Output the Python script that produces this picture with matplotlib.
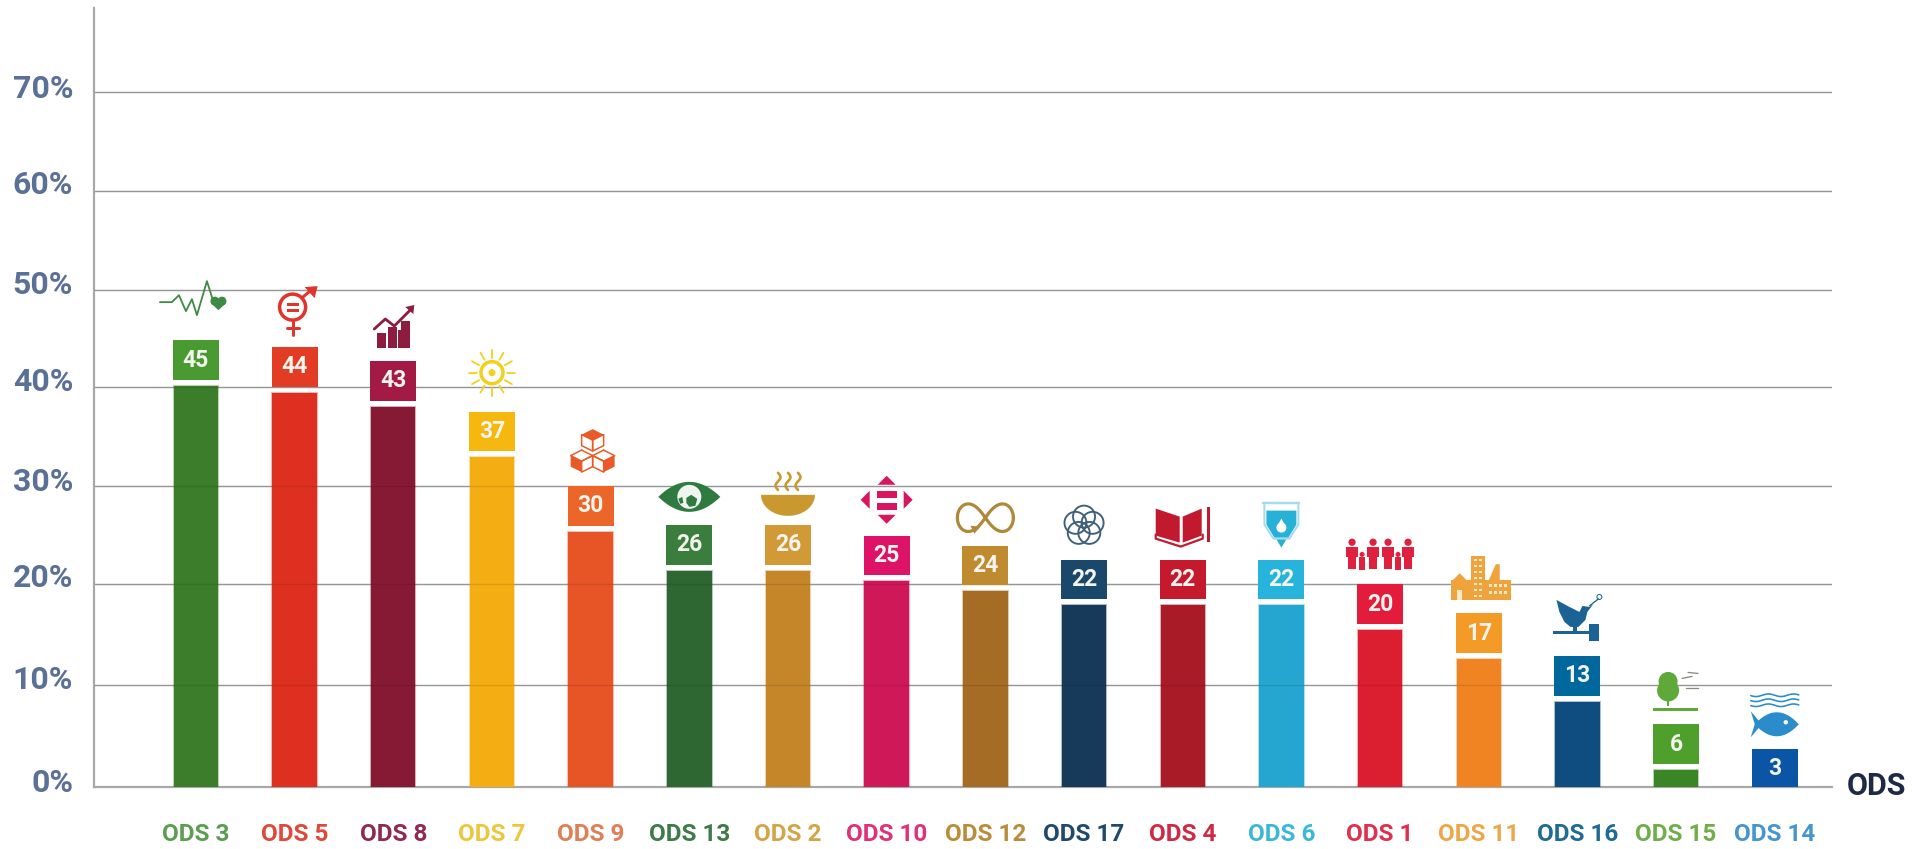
import numpy as np
import matplotlib
matplotlib.use("Agg")
import matplotlib.pyplot as plt
from matplotlib.colors import to_rgba
from matplotlib.patches import Circle, Polygon, Rectangle

plt.rcParams['font.family'] = ['Roboto', 'DejaVu Sans']

ods_labels = ['ODS 3', 'ODS 5', 'ODS 8', 'ODS 7', 'ODS 9', 'ODS 13', 'ODS 2', 'ODS 10', 'ODS 12',
              'ODS 17', 'ODS 4', 'ODS 6', 'ODS 1', 'ODS 11', 'ODS 16', 'ODS 15', 'ODS 14']
values = [45, 44, 43, 37, 30, 26, 26, 25, 24, 22, 22, 22, 20, 17, 13, 6, 3]
# where the top of each box sits on the axis
tops = [45.0, 44.3, 42.9, 37.8, 30.3, 26.4, 26.4, 25.3, 24.3, 22.9, 22.9, 22.9, 20.4, 17.5, 13.2, 6.3, 3.8]
bar_colors = ['#3b7d2a', '#de3020', '#861a34', '#f5ad14', '#e75425', '#2f6733', '#c5862a', '#cf1857', '#a56c25',
              '#183a5a', '#aa1b28', '#24a6d0', '#db1f30', '#f08423', '#0f4d80', '#3a8526', '#0050a0']
box_colors = ['#4a9a32', '#e23c24', '#a31a45', '#f6b70f', '#ec662a', '#3a7d3d', '#d19a37', '#dd1367', '#bf8b2e',
              '#19486a', '#c5192d', '#26b4dc', '#e21c3a', '#f39a27', '#00689d', '#4f9f2d', '#0a55a5']
text_colors = ['#5a9e50', '#e0483a', '#8f2a55', '#ecc63c', '#e07f55', '#3f7a4a', '#d4a548', '#e0307a', '#b98d3a',
               '#1f4a6e', '#cf2a45', '#3bb8d8', '#e0304f', '#eda748', '#1f6a96', '#6fae4a', '#4596cf']
grid_pos = [10.3, 20.4, 30.3, 40.3, 50.1, 60.0, 70.0]
# the tick labels do not sit exactly on their lines in the reference
label_pos = [0.7, 11.1, 21.4, 31.0, 41.1, 50.9, 60.9, 70.6]
tick_labels = ['0%', '10%', '20%', '30%', '40%', '50%', '60%', '70%']

W, H = 1928, 849
fig = plt.figure(figsize=(W / 100, H / 100), dpi=100)
ax = fig.add_axes([94 / W, 1 - 787 / H, (1832 - 94) / W, (787 - 8) / H])
ax.set_xlim(-1.033, 16.58)
ax.set_ylim(0, 78.45)
for s in ['top', 'right']:
    ax.spines[s].set_visible(False)
for s in ['left', 'bottom']:
    ax.spines[s].set_color('#a8a8a8')
    ax.spines[s].set_linewidth(1.6)
ax.spines['bottom'].set_zorder(1)

for y in grid_pos:
    ax.axhline(y, color='#a8a8a8', linewidth=1.0, zorder=1)
    ax.axhline(y, color='black', alpha=0.1, linewidth=1.0, zorder=2.5)

ax.set_xticks(range(len(ods_labels)))
ax.set_xticklabels(ods_labels, fontsize=17.5, fontweight='bold')
for lab, c in zip(ax.get_xticklabels(), text_colors):
    lab.set_color(c)
ax.tick_params(axis='x', length=0, pad=26)
ax.set_yticks(label_pos)
ax.set_yticklabels(tick_labels, fontsize=23, fontweight='bold', color='#5b7096')
ax.tick_params(axis='y', length=0, pad=15)

box_h = 4.0
gap = 0.6
bar_w = 0.45
box_w = 0.465
for i, t in enumerate(tops):
    low = max(t - box_h - gap, 0)
    box_low = max(t - box_h, 0)
    if low > 0:
        # soft edge like the scanned original
        ax.bar(i, low, width=bar_w, color=bar_colors[i], edgecolor=to_rgba(bar_colors[i], 0.35),
               linewidth=1.5, zorder=2)
    ax.bar(i, t - box_low, bottom=box_low, width=box_w, color=box_colors[i], zorder=3)
    ax.text(i, (box_low + t) / 2, str(values[i]), color='#f4f4ee', fontsize=16.5,
            fontweight='bold', ha='center', va='center', zorder=4)

fig.text(1877 / W, 1 - 786 / H, 'ODS', fontsize=22, fontweight='bold', color='#1e2a44', ha='center', va='center')

# overlay in image pixels for the little goal icons
ov = fig.add_axes([0, 0, 1, 1], zorder=5)
ov.set_xlim(0, W)
ov.set_ylim(H, 0)
ov.axis('off')
ov.patch.set_alpha(0)


def line(cx, cy, pts, c, lw=2.0):
    pts = np.array(pts, dtype=float)
    ov.plot(cx + pts[:, 0], cy + pts[:, 1], color=c, lw=lw * 0.72, solid_capstyle='round', solid_joinstyle='round')


def poly(cx, cy, pts, c):
    pts = np.array(pts, dtype=float)
    ov.add_patch(Polygon(np.c_[cx + pts[:, 0], cy + pts[:, 1]], closed=True, fc=c, ec='none'))


def rect(cx, cy, x, y, w, h, c):
    ov.add_patch(Rectangle((cx + x, cy + y), w, h, fc=c, ec='none'))


def circ(cx, cy, x, y, r, fc='none', ec='none', lw=2.0):
    ov.add_patch(Circle((cx + x, cy + y), r, fc=fc, ec=ec, lw=lw * 0.72))


def health(cx, cy, c):
    line(cx, cy, [(-36, 0), (-24, 0), (-17, -7), (-10, 9), (-4, -3), (1, 13), (11, -21), (17, -2)], c, 1.8)
    circ(cx, cy, 19, -1, 4.5, fc=c)
    circ(cx, cy, 26, -1, 4.5, fc=c)
    poly(cx, cy, [(15, 1), (30, 1), (22.5, 8)], c)


def gender(cx, cy, c):
    circ(cx, cy, -2, -4, 13, ec=c, lw=3.5)
    rect(cx, cy, -8, -8, 12, 3, c)
    rect(cx, cy, -8, -2, 12, 3, c)
    line(cx, cy, [(-2, 9), (-2, 24)], c, 3)
    line(cx, cy, [(-8, 17), (4, 17)], c, 3)
    line(cx, cy, [(7, -13), (19, -23)], c, 3)
    poly(cx, cy, [(10, -24), (23, -25), (20, -13)], c)


def growth(cx, cy, c):
    for x, h in [(-16, 15), (-5, 21), (5, 18)]:
        rect(cx, cy, x, 20 - h, 9, h, c)
    rect(cx, cy, 8, -7, 9, 27, c)
    line(cx, cy, [(-19, 1), (-8, -9), (1, -2), (19, -20)], c, 2.8)
    poly(cx, cy, [(12, -21), (21, -23), (20, -14)], c)


def sun(cx, cy, c):
    circ(cx, cy, 0, 0, 11, ec=c, lw=3.5)
    circ(cx, cy, 0, 0, 3.5, fc=c)
    for a in np.arange(0, 360, 30):
        r = np.deg2rad(a)
        line(cx, cy, [(15 * np.cos(r), 15 * np.sin(r)), (23 * np.cos(r), 23 * np.sin(r))], c, 1.8)


def cube(cx, cy, x, y, s, c, solid):
    top = [(x, y - s), (x + s, y - s / 2), (x, y), (x - s, y - s / 2)]
    left = [(x - s, y - s / 2), (x, y), (x, y + s), (x - s, y + s / 2)]
    right = [(x + s, y - s / 2), (x + s, y + s / 2), (x, y + s), (x, y)]
    for j, f in enumerate([top, left, right]):
        if solid[j]:
            poly(cx, cy, f, c)
        else:
            line(cx, cy, f + [f[0]], c, 1.5)


def cubes(cx, cy, c):
    cube(cx + 2, cy, 0, -11, 11, c, [1, 0, 0])
    cube(cx + 2, cy, -11, 10, 11, c, [0, 1, 0])
    cube(cx + 2, cy, 11, 10, 11, c, [0, 0, 1])


def eye(cx, cy, c):
    t = np.linspace(-1, 1, 40)
    up = np.c_[31 * t, -15 * (1 - t ** 2)]
    dn = np.c_[31 * t[::-1], 15 * (1 - t[::-1] ** 2)]
    poly(cx, cy, np.r_[up, dn], c)
    circ(cx, cy, 0, 0, 12, fc='#eef5ee')
    poly(cx, cy, [(-3, 1), (2, -2), (8, 2), (6, 9), (0, 10), (-3, 6)], c)
    poly(cx, cy, [(-11, 2), (-7, 0), (-6, 6), (-9, 7)], c)


def bowl(cx, cy, c):
    t = np.linspace(0, np.pi, 30)
    poly(cx, cy, np.c_[27 * np.cos(t), 1 + 21 * np.sin(t)], c)
    for x in (-10, 0, 10):
        yy = np.linspace(-21, -4, 14)
        line(cx, cy, np.c_[x + 2.5 * np.sin((yy + 21) / 17 * 2 * np.pi), yy], c, 2.6)


def arrows(cx, cy, c):
    poly(cx, cy, [(-9, -15), (9, -15), (0, -24)], c)
    poly(cx, cy, [(-9, 15), (9, 15), (0, 24)], c)
    poly(cx, cy, [(-17, -9), (-17, 9), (-26, 0)], c)
    poly(cx, cy, [(17, -9), (17, 9), (26, 0)], c)
    rect(cx, cy, -10, -9, 20, 7, c)
    rect(cx, cy, -10, 3, 20, 7, c)


def infinity(cx, cy, c):
    t = np.linspace(0, 2 * np.pi, 120)
    d = 1 + np.sin(t) ** 2
    line(cx, cy, np.c_[28 * np.cos(t) / d, 39 * np.sin(t) * np.cos(t) / d], c, 3.2)
    poly(cx, cy, [(-15, 8), (-5, 9), (-11, 16)], c)


def flower(cx, cy, c):
    for a in np.arange(-90, 270, 72):
        r = np.deg2rad(a)
        circ(cx, cy, 9 * np.cos(r), 9 * np.sin(r), 11, ec=c, lw=1.9)


def book(cx, cy, c):
    poly(cx, cy, [(-27, -17), (-3, -9), (-3, 17), (-27, 10)], c)
    poly(cx, cy, [(0, -9), (19, -17), (19, 10), (0, 17)], c)
    line(cx, cy, [(-27, 9), (-27, 13), (-2, 21), (20, 13), (20, 9)], c, 2.2)
    rect(cx, cy, 24, -19, 3.5, 35, c)


def water(cx, cy, c):
    line(cx, cy, [(-17, -22), (-17, -1), (-8, 13), (8, 13), (17, -1), (17, -22)], '#a5dcea', 2)
    line(cx, cy, [(-18, -23), (18, -23)], '#a5dcea', 2.5)
    poly(cx, cy, [(-15, -15), (15, -15), (15, -1), (7, 12), (-7, 12), (-15, -1)], c)
    poly(cx, cy, [(-6, 12), (6, 12), (0, 22)], c)
    circ(cx, cy, 0, 2, 5, fc='white')
    poly(cx, cy, [(-4, 0), (4, 0), (0, -7)], 'white')


def person(cx, cy, x, s, c):
    circ(cx, cy, x, -12 * s, 3.3 * s, fc=c)
    rect(cx, cy, x - 3.5 * s, -8 * s, 7 * s, 20 * s, c)
    rect(cx, cy, x - 5.5 * s, -8 * s, 11 * s, 9 * s, c)


def family(cx, cy, c):
    for x in (-28, -7, 8, 28):
        person(cx, cy, x, 1.1, c)
    for x in (-18, 18):
        rect(cx, cy, x - 3, 2, 6, 13, c)
        circ(cx, cy, x, -1, 2.5, fc=c)


def city(cx, cy, c):
    rect(cx, cy, -8, -22, 14, 44, c)
    rect(cx, cy, -28, 2, 60, 20, c)
    poly(cx, cy, [(-28, 4), (-19, -5), (-10, 4)], c)
    poly(cx, cy, [(10, 2), (17, -14), (21, -14), (21, 2)], c)
    for x in (-5, 0):
        for y in range(-19, 21, 6):
            rect(cx, cy, x, y, 3, 2, '#fde8c8')
    for x in range(10, 30, 5):
        for y in (6, 13):
            rect(cx, cy, x, y, 3, 3, '#fde8c8')
    rect(cx, cy, -22, 12, 5, 10, '#fde8c8')


def dove(cx, cy, c):
    poly(cx, cy, [(-21, -21), (-8, -14), (2, -9), (5, -15), (12, -14), (16, -17), (10, -9), (8, -1),
                  (1, 6), (-7, 6), (-13, 1), (-18, -9)], c)
    line(cx, cy, [(12, -15), (21, -22)], c, 1.3)
    circ(cx, cy, 22, -24, 2.5, ec=c, lw=1)
    rect(cx, cy, -24, 10, 38, 3, c)
    rect(cx, cy, 12, 3, 10, 17, c)
    rect(cx, cy, -4, 5, 4, 5, c)


def tree(cx, cy, c):
    circ(cx, cy, -8, -11, 9.5, fc=c)
    circ(cx, cy, -8, -2, 11, fc=c)
    rect(cx, cy, -9, 6, 2, 8, c)
    rect(cx, cy, -23, 16, 45, 3, c)
    line(cx, cy, [(6, -14), (16, -16)], '#8a8a7a', 1.3)
    line(cx, cy, [(12, -20), (22, -19)], '#8a8a7a', 1.3)
    line(cx, cy, [(10, -4), (22, -4)], '#8a8a7a', 1.3)


def fish(cx, cy, c):
    for y in (-21, -16, -11):
        xx = np.linspace(-24, 24, 25)
        line(cx, cy, np.c_[xx, y + 1.3 * np.sin(xx / 4)], c, 1.6)
    t = np.linspace(-1, 1, 30)
    poly(cx, cy, np.r_[np.c_[2 + 22 * t, 8 - 12 * (1 - t ** 2)], np.c_[2 + 22 * t[::-1], 8 + 12 * (1 - t[::-1] ** 2)]], c)
    poly(cx, cy, [(-24, -5), (-13, 8), (-24, 21), (-20, 8)], c)
    circ(cx, cy, 11, 6, 2.2, fc='white')


# icon centres relative to bar x and box top, so they follow the bars
icon_funcs = [health, gender, growth, sun, cubes, eye, bowl, arrows, infinity,
              flower, book, water, family, city, dove, tree, fish]
icon_dy = [-38, -36, -33, -39, -35, -28, -31, -36, -28, -34, -34, -34, -29, -35, -35, -32, -33]
icon_colors = ['#3f8a45', '#e0342c', '#8e1c3e', '#f3cf1e', '#e85a28', '#2f7a40', '#c9982f', '#d9155f', '#b0883a',
               '#3f6078', '#c11a2e', '#27b1d6', '#e0203f', '#efa33d', '#1a6394', '#5fa83a', '#2a8ccb']

for i, f in enumerate(icon_funcs):
    px, py = ax.transData.transform((i, tops[i]))
    f(px, H - py + icon_dy[i], icon_colors[i])

fig.savefig('out.png', dpi=100, facecolor='white')
